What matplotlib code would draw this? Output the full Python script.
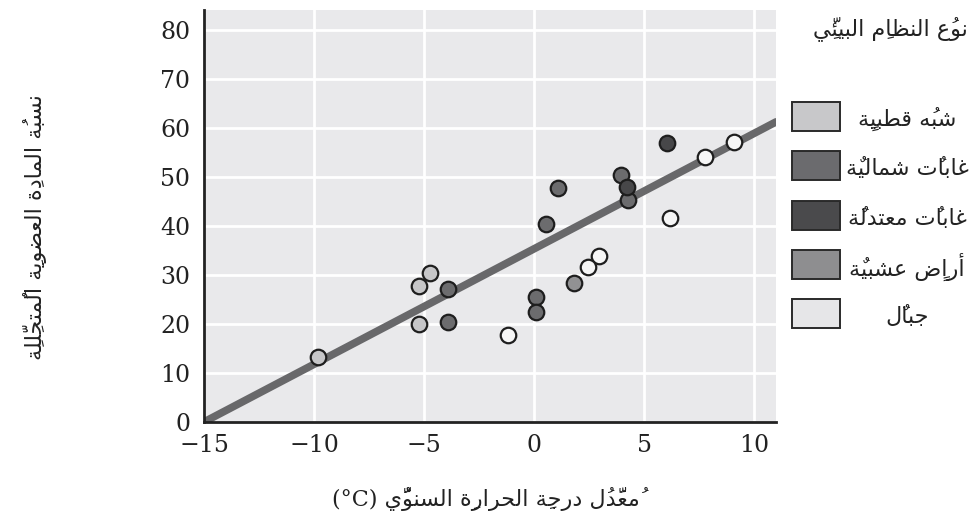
import matplotlib
matplotlib.use('Agg')
import matplotlib.pyplot as plt
from matplotlib.patches import Rectangle

# values
biomes = ['شبهُ قطبيةٍ', 'غاباتٌ شماليةٌ', 'غاباتٌ معتدلةٌ', 'أراضٍ عشبيةٌ', 'جبالٌ']
box_colors = ['#c8c8ca', '#6b6b6e', '#4a4a4c', '#8e8e90', '#e6e6e8']
dot_colors = ['#c6c6c8', '#6c6c6e', '#474749', '#919193', '#f6f6f6']

subarctic_x = [-9.8, -5.25, -4.75, -5.25]
subarctic_y = [13.3, 27.8, 30.3, 19.9]
boreal_x = [-3.9, -3.9, 0.55, 1.08, 3.94, 4.27, 0.08, 0.08]
boreal_y = [27.1, 20.3, 40.4, 47.8, 50.3, 45.2, 25.5, 22.5]
temperate_x = [6.06, 4.23]
temperate_y = [56.9, 48.0]
grassland_x = [1.8]
grassland_y = [28.4]
mountain_x = [9.09, 7.79, 6.2, 2.95, 2.47, -1.18]
mountain_y = [57.0, 54.0, 41.6, 33.9, 31.6, 17.8]

trend_x = [-15, 11]
trend_y = [0, 61.2]

x_ticks = [-15, -10, -5, 0, 5, 10]
y_ticks = [0, 10, 20, 30, 40, 50, 60, 70, 80]

title_text = 'نوعُ النظامِ البيئيِّ'
x_text = 'مُعدَّلُ درجةِ الحرارةِ السنويُّ'
y_text = 'نسبةُ المادةِ العضويةِ المُتحلِّلةِ'


# matplotlib has no arabic shaping, so pick presentation forms by hand
counts = [1, 2, 2, 2, 2, 4, 2, 4, 2, 4, 4, 4, 4, 4, 2, 2, 2, 2, 4, 4, 4, 4, 4, 4, 4, 4,
          4, 4, 4, 4, 4, 4, 4, 2, 2, 4]
codes = list(range(0x0621, 0x063B)) + list(range(0x0641, 0x064B))
FORMS = {}
pos = 0xFE80
for code, n in zip(codes, counts):
    FORMS[chr(code)] = [chr(pos + k) for k in range(n)]
    pos += n
HARAKAT = set(chr(c) for c in range(0x064B, 0x0653))


def rtl(text):
    """Shape arabic text and return it in visual (left to right) order"""
    chars = list(text)
    shaped = []
    for i, c in enumerate(chars):
        if c not in FORMS:
            shaped.append(c)
            continue
        j = i - 1
        while j >= 0 and chars[j] in HARAKAT:
            j -= 1
        k = i + 1
        while k < len(chars) and chars[k] in HARAKAT:
            k += 1
        prev = chars[j] if j >= 0 else ''
        nxt = chars[k] if k < len(chars) else ''
        forms = FORMS[c]
        join_prev = prev in FORMS and len(FORMS[prev]) == 4
        join_next = nxt in FORMS and len(forms) == 4
        if len(forms) == 1:
            shaped.append(forms[0])
        elif len(forms) == 2:
            shaped.append(forms[1] if join_prev else forms[0])
        else:
            if join_prev and join_next:
                shaped.append(forms[3])
            elif join_prev:
                shaped.append(forms[1])
            elif join_next:
                shaped.append(forms[2])
            else:
                shaped.append(forms[0])
    clusters = []
    for c in shaped:
        if c in HARAKAT and clusters:
            clusters[-1] += c
        else:
            clusters.append(c)
    return ''.join(clusters[::-1])


plt.rcParams['font.family'] = ['DejaVu Serif', 'DejaVu Sans']
arabic = ['DejaVu Sans']

fig = plt.figure(figsize=(9.77, 5.30), dpi=100)
ax = fig.add_axes([0.2088, 0.2038, 0.5855, 0.7772])
ax.set_facecolor('#e9e9eb')

ax.plot(trend_x, trend_y, color='#68686a', lw=5.5, solid_capstyle='round', zorder=2)

groups = [(subarctic_x, subarctic_y), (boreal_x, boreal_y), (temperate_x, temperate_y),
          (grassland_x, grassland_y), (mountain_x, mountain_y)]
for (gx, gy), col in zip(groups, dot_colors):
    ax.scatter(gx, gy, s=125, c=col, edgecolors='#1e1e1e', linewidths=1.6, zorder=3)

ax.set_xlim(-15, 11)
ax.set_ylim(0, 84)
ax.set_xticks(x_ticks)
ax.set_yticks(y_ticks)
ax.set_xticklabels(['−15', '−10', '−5', '0', '5', '10'])
ax.grid(True, color='white', lw=2)
ax.set_axisbelow(True)
ax.tick_params(length=0, labelsize=17, colors='#222222')
ax.tick_params(axis='x', pad=9)
ax.tick_params(axis='y', pad=10)
for side in ['top', 'right']:
    ax.spines[side].set_visible(False)
for side in ['left', 'bottom']:
    ax.spines[side].set_color('#222222')
    ax.spines[side].set_linewidth(2)

fig.text(0.497, 0.058, '(°C) ' + rtl(x_text), ha='center', va='center', fontsize=16,
         color='#222222', family=['DejaVu Serif', 'DejaVu Sans'])
fig.text(0.036, 0.572, rtl(y_text), ha='center', va='center', rotation=90, fontsize=16,
         color='#222222', family=arabic)

# legend drawn by hand so the labels can be centred like the original
fig.text(0.911, 0.947, rtl(title_text), ha='center', va='center', fontsize=16,
         color='#222222', family=arabic)
box_top = [102, 151, 201, 250, 299]
for name, col, top in zip(biomes, box_colors, box_top):
    fig.add_artist(Rectangle((792 / 977, 1 - (top + 29) / 530), 48 / 977, 29 / 530,
                             transform=fig.transFigure, facecolor=col,
                             edgecolor='#2a2a2a', lw=1.4))
    fig.text(907 / 977, 1 - (top + 17) / 530, rtl(name), ha='center', va='center',
             fontsize=16, color='#222222', family=arabic)

fig.savefig('out.png', dpi=100)
